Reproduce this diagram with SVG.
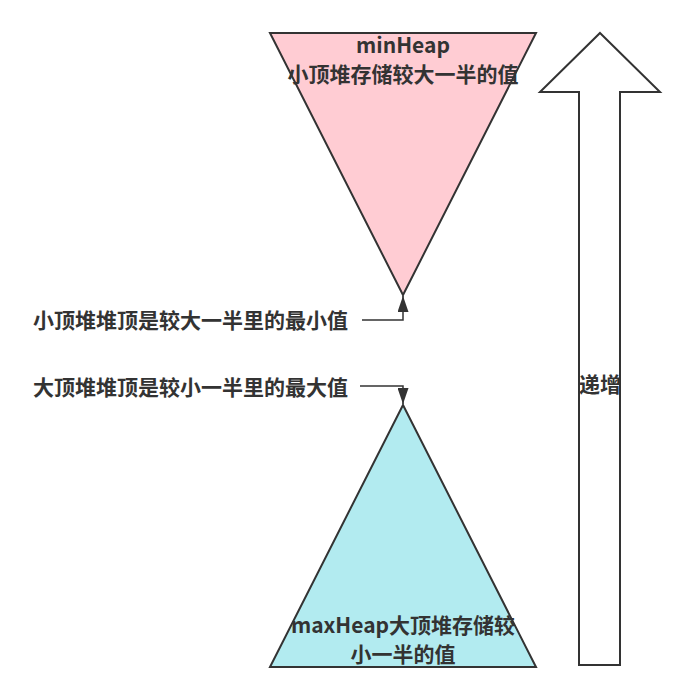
<svg xmlns="http://www.w3.org/2000/svg" width="677" height="693" viewBox="0 0 677 693">
  <style>
    .shape { stroke: #333333; stroke-width: 2; stroke-linejoin: miter; }
    .label { font-family: "Noto Sans CJK SC", "Noto Sans", sans-serif; font-weight: bold; font-size: 21px; fill: #333333; }
    .conn { fill: none; stroke: #333333; stroke-width: 1.5; }
  </style>
  <defs>
    <marker id="arrow" viewBox="0 0 10 10" refX="10" refY="5" markerWidth="16" markerHeight="11" markerUnits="userSpaceOnUse" orient="auto" preserveAspectRatio="none">
      <path d="M0,0 L10,5 L0,10 Z" fill="#333333"/>
    </marker>
  </defs>
  <rect width="677" height="693" fill="#ffffff"/>

  <!-- min-heap: inverted triangle -->
  <g id="minHeap">
    <polygon class="shape" points="270,33 536,33 403,295" fill="#ffccd3"/>
    <text class="label" x="403" y="53" text-anchor="middle">minHeap</text>
    <text class="label" x="403" y="82" text-anchor="middle">小顶堆存储较大一半的值</text>
  </g>

  <!-- max-heap: upright triangle -->
  <g id="maxHeap">
    <polygon class="shape" points="403,405 536,667 270,667" fill="#b2ebf0"/>
    <text class="label" x="403" y="633" text-anchor="middle">maxHeap大顶堆存储较</text>
    <text class="label" x="403" y="662" text-anchor="middle">小一半的值</text>
  </g>

  <!-- increasing direction arrow -->
  <g id="increase">
    <polygon class="shape" points="600,33 660,92 620,92 620,665 579,665 579,92 540,92" fill="#ffffff"/>
    <text class="label" x="600" y="392" text-anchor="middle">递增</text>
  </g>

  <!-- annotation labels -->
  <g id="minTopLabel">
    <text class="label" x="33" y="328">小顶堆堆顶是较大一半里的最小值</text>
  </g>
  <g id="maxTopLabel">
    <text class="label" x="33" y="395">大顶堆堆顶是较小一半里的最大值</text>
  </g>

  <!-- connectors -->
  <g id="connectors">
    <path class="conn" d="M362,320 L403,320 L403,296" marker-end="url(#arrow)"/>
    <path class="conn" d="M360,386 L403,386 L403,404" marker-end="url(#arrow)"/>
  </g>
</svg>
